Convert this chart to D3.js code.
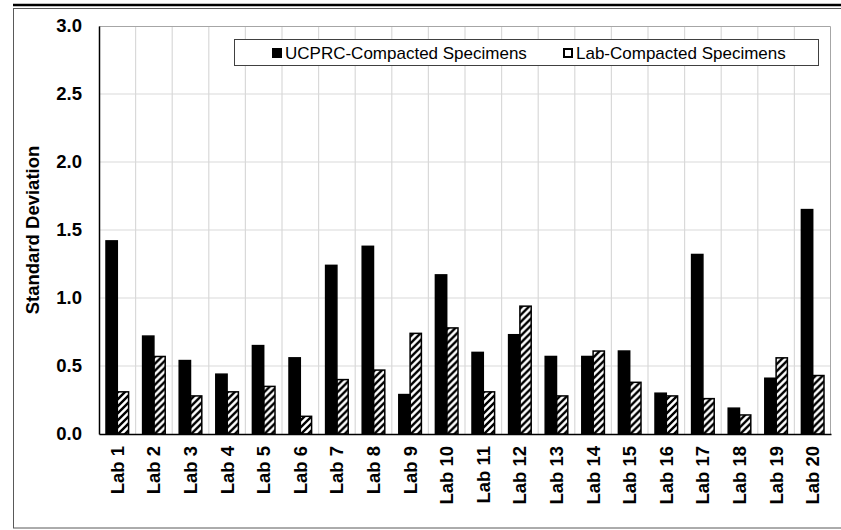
<!DOCTYPE html>
<html>
<head>
<meta charset="utf-8">
<script src="https://cdn.jsdelivr.net/npm/d3@7"></script>
<style>
  body { margin: 0; background: #fff; }
  text { font-family: "Liberation Sans", Arial, sans-serif; }
</style>
</head>
<body>
<div id="chart"></div>
<script>
var labs = ["Lab 1", "Lab 2", "Lab 3", "Lab 4", "Lab 5", "Lab 6", "Lab 7", "Lab 8", "Lab 9", "Lab 10",
            "Lab 11", "Lab 12", "Lab 13", "Lab 14", "Lab 15", "Lab 16", "Lab 17", "Lab 18", "Lab 19", "Lab 20"];
var ucprc = [1.42, 0.72, 0.54, 0.44, 0.65, 0.56, 1.24, 1.38, 0.29, 1.17,
             0.60, 0.73, 0.57, 0.57, 0.61, 0.30, 1.32, 0.19, 0.41, 1.65];
var labCompacted = [0.31, 0.57, 0.28, 0.31, 0.35, 0.13, 0.40, 0.47, 0.74, 0.78,
                    0.31, 0.94, 0.28, 0.61, 0.38, 0.28, 0.26, 0.14, 0.56, 0.43];
var seriesNames = ["UCPRC-Compacted Specimens", "Lab-Compacted Specimens"];
var yTicks = [0, 0.5, 1.0, 1.5, 2.0, 2.5, 3.0];

var W = 841, H = 530;
var margin = {top: 26, right: 10, bottom: 96, left: 99},
    width = W - margin.left - margin.right,
    height = H - margin.top - margin.bottom;

var svg = d3.select("#chart").append("svg")
    .attr("width", W)
    .attr("height", H);

// hatch pattern for lab-compacted bars
var defs = svg.append("defs");
defs.append("pattern")
    .attr("id", "hatch")
    .attr("patternUnits", "userSpaceOnUse")
    .attr("width", 7)
    .attr("height", 7)
  .append("path")
    .attr("d", "M-1,1 l2,-2 M0,7 l7,-7 M6,8 l2,-2")
    .attr("stroke", "#000")
    .attr("stroke-width", 2.4);

// outer frame + top rule
svg.append("rect")
    .attr("x", 13.5).attr("y", 8.5)
    .attr("width", 850).attr("height", 519.5)
    .attr("fill", "none")
    .attr("stroke", "#595959")
    .attr("stroke-width", 1);
svg.append("line")
    .attr("x1", 13).attr("x2", W)
    .attr("y1", 5).attr("y2", 5)
    .attr("stroke", "#000")
    .attr("stroke-width", 2.5);

var g = svg.append("g")
    .attr("transform", "translate(" + margin.left + "," + margin.top + ")");

var x = d3.scaleBand()
    .domain(labs)
    .range([0, width])
    .padding(0);

var x1 = d3.scaleBand()
    .domain(seriesNames)
    .range([0, x.bandwidth()])
    .paddingInner(0)
    .paddingOuter(0.62);

var y = d3.scaleLinear()
    .domain([0, 3])
    .range([height, 0]);

// gridlines
g.selectAll(".hgrid")
    .data(yTicks.slice(1, -1))
  .enter().append("line")
    .attr("x1", 0).attr("x2", width)
    .attr("y1", function (d) { return y(d); })
    .attr("y2", function (d) { return y(d); })
    .attr("stroke", "#d9d9d9")
    .attr("stroke-width", 1.2);

g.selectAll(".vgrid")
    .data(labs.slice(1))
  .enter().append("line")
    .attr("x1", function (d) { return x(d); })
    .attr("x2", function (d) { return x(d); })
    .attr("y1", 0).attr("y2", height)
    .attr("stroke", "#d9d9d9")
    .attr("stroke-width", 1.2);

// plot area border (top, right)
g.append("path")
    .attr("d", "M0,0.5 H" + (width - 0.5) + " V" + height)
    .attr("fill", "none")
    .attr("stroke", "#a6a6a6")
    .attr("stroke-width", 1);

// bars
var rows = labs.map(function (lab, i) {
  return {lab: lab, values: [
    {name: seriesNames[0], value: ucprc[i]},
    {name: seriesNames[1], value: labCompacted[i]}
  ]};
});

var groups = g.selectAll(".lab")
    .data(rows)
  .enter().append("g")
    .attr("transform", function (d) { return "translate(" + x(d.lab) + ",0)"; });

groups.selectAll("rect")
    .data(function (d) { return d.values; })
  .enter().append("rect")
    .attr("x", function (d) { return x1(d.name); })
    .attr("y", function (d) { return y(d.value); })
    .attr("width", x1.bandwidth())
    .attr("height", function (d) { return height - y(d.value); })
    .attr("fill", function (d, i) { return i === 0 ? "#000" : "url(#hatch)"; })
    .attr("stroke", "#000")
    .attr("stroke-width", 1.5);

// axes
var yAxis = d3.axisLeft(y).tickValues(yTicks).tickSize(0).tickPadding(17)
    .tickFormat(d3.format(".1f"));
var gy = g.append("g").call(yAxis);
gy.select(".domain").attr("stroke", "#000").attr("stroke-width", 1.5);
gy.selectAll("text")
    .style("font-size", "18.5px")
    .style("font-weight", "bold")
    .attr("fill", "#000");

var xAxis = d3.axisBottom(x).tickSize(0).tickPadding(0);
var gx = g.append("g")
    .attr("transform", "translate(0," + height + ")")
    .call(xAxis);
gx.select(".domain").attr("stroke", "#000").attr("stroke-width", 1.5);
gx.selectAll("text")
    .attr("transform", "rotate(-90)")
    .attr("x", -12)
    .attr("y", 0)
    .attr("dy", "0.35em")
    .style("text-anchor", "end")
    .style("font-size", "18.5px")
    .style("font-weight", "bold")
    .attr("fill", "#000");

// y axis title
svg.append("text")
    .attr("transform", "translate(39," + (margin.top + height / 2) + ") rotate(-90)")
    .attr("text-anchor", "middle")
    .style("font-size", "18.5px")
    .style("font-weight", "bold")
    .text("Standard Deviation");

// legend
var legend = svg.append("g");
legend.append("rect")
    .attr("x", 234.5).attr("y", 39.5)
    .attr("width", 584).attr("height", 26)
    .attr("fill", "#fff")
    .attr("stroke", "#404040")
    .attr("stroke-width", 1);

var legendX = [272, 563];
seriesNames.forEach(function (name, i) {
  legend.append("rect")
      .attr("x", legendX[i] + (i === 0 ? 0 : 1))
      .attr("y", i === 0 ? 48 : 49)
      .attr("width", i === 0 ? 10 : 8)
      .attr("height", i === 0 ? 10 : 8)
      .attr("fill", i === 0 ? "#000" : "#fff")
      .attr("stroke", "#000")
      .attr("stroke-width", i === 0 ? 0 : 2);
  legend.append("text")
      .attr("x", legendX[i] + 13)
      .attr("y", 53)
      .attr("dy", "0.35em")
      .style("font-size", "17px")
      .text(name);
});
</script>
</body>
</html>
